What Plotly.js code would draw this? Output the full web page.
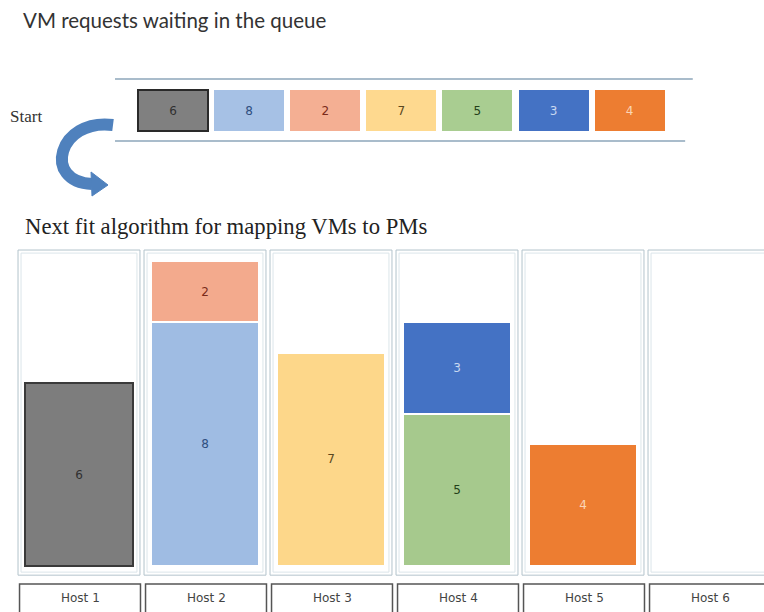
<!DOCTYPE html>
<html>
<head>
<meta charset="utf-8">
<script src="https://cdn.plot.ly/plotly-3.0.1.min.js"></script>
<style>html,body{margin:0;padding:0;background:#fff;}#chart{width:764px;height:612px;}</style>
</head>
<body>
<div id="chart"></div>
<script>
// ---- data ----
const vmSizes = [6, 8, 2, 7, 5, 3, 4];               // queue order
const vmHost = ['Host 1', 'Host 2', 'Host 2', 'Host 3', 'Host 4', 'Host 4', 'Host 5'];
const hosts = ['Host 1', 'Host 2', 'Host 3', 'Host 4', 'Host 5', 'Host 6'];
const hostCapacity = [10, 10, 10, 10, 10, 10];
const queueTitle = 'VM requests waiting in the queue';
const startLabel = 'Start';
const algoTitle = 'Next fit algorithm for mapping VMs to PMs';

// ---- styles ----
const fillMain = ['#7d7d7d', '#9fbce3', '#f3aa8d', '#fdd78a', '#a6c98d', '#4472c4', '#ed7d31'];
const fillQueue = ['#808080', '#a6c1e5', '#f4af93', '#fed98f', '#a9cd91', '#4472c4', '#ed7d31'];
const textCol = ['#303030', '#2f4f80', '#7a2a1a', '#5a4820', '#24401a', '#c8d8f0', '#fbd5b5'];
const edgeMain = ['#3a3a3a', '#ffffff', '#ffffff', '#ffffff', '#ffffff', '#ffffff', '#ffffff'];
const edgeWMain = [1.5, 2, 2, 2, 2, 2, 2];

const W = 764, H = 612, ML = 16;
const px = v => (v - ML) / (W - ML);
const py = v => (H - v) / H;

const traces = [];
// main stacked bars (one trace per VM)
vmSizes.forEach((s, i) => {
  traces.push({
    type: 'bar', xaxis: 'x', yaxis: 'y',
    x: [hosts.indexOf(vmHost[i]) + 1], y: [s],
    width: 0.86,
    marker: {color: fillMain[i], line: {color: edgeMain[i], width: edgeWMain[i]}},
    text: [String(s)], textposition: 'inside', insidetextanchor: 'middle',
    textangle: 0, constraintext: 'none',
    textfont: {family: 'DejaVu Sans', size: 12, color: textCol[i]},
    hoverinfo: 'skip', showlegend: false
  });
});
// queue boxes
traces.push({
  type: 'bar', xaxis: 'x2', yaxis: 'y2',
  x: vmSizes.map((s, i) => i + 1), y: vmSizes.map(() => 1),
  width: 0.92,
  marker: {color: fillQueue, line: {color: vmSizes.map((s, i) => i === 0 ? '#2a2a2a' : 'rgba(0,0,0,0)'), width: vmSizes.map((s, i) => i === 0 ? 1.5 : 0)}},
  text: vmSizes.map(String), textposition: 'inside', insidetextanchor: 'middle',
  textangle: 0, constraintext: 'none',
  textfont: {family: 'DejaVu Sans', size: 12, color: textCol},
  hoverinfo: 'skip', showlegend: false
});

const shapes = [];
// host column frames (double line look)
hosts.forEach((h, i) => {
  const c = i + 1;
  shapes.push({type: 'rect', xref: 'x', yref: 'y', layer: 'below',
    x0: c - 0.484, x1: c + 0.484, y0: -0.3, y1: hostCapacity[i] + 0.36,
    line: {color: '#b3c3cc', width: 1}, fillcolor: 'rgba(0,0,0,0)'});
  shapes.push({type: 'rect', xref: 'x', yref: 'y', layer: 'below',
    x0: c - 0.46, x1: c + 0.46, y0: -0.2, y1: hostCapacity[i] + 0.26,
    line: {color: '#dbe5ea', width: 1}, fillcolor: 'rgba(0,0,0,0)'});
  // host label box
  shapes.push({type: 'rect', xref: 'x', yref: 'y', layer: 'above',
    x0: c - 0.472, x1: c + 0.488, y0: -0.59, y1: -2.2,
    line: {color: '#555555', width: 1.5}, fillcolor: 'rgba(0,0,0,0)'});
});
// queue rails
shapes.push({type: 'line', xref: 'x2', yref: 'y2', x0: 0.238, x1: 7.83, y0: 1.268, y1: 1.268,
  line: {color: '#a9bccb', width: 2}});
shapes.push({type: 'line', xref: 'x2', yref: 'y2', x0: 0.238, x1: 7.73, y0: -0.244, y1: -0.244,
  line: {color: '#a9bccb', width: 2}});
// curved "start" arrow
const P = (x, y) => px(x).toFixed(4) + ',' + py(y).toFixed(4);
shapes.push({type: 'path', xref: 'paper', yref: 'paper',
  path: 'M' + P(113, 125) + ' C' + P(58, 118) + ' ' + P(42, 182) + ' ' + P(92, 184),
  line: {color: '#4f81bd', width: 12}, fillcolor: 'rgba(0,0,0,0)'});
shapes.push({type: 'path', xref: 'paper', yref: 'paper',
  path: 'M' + P(91, 172) + ' L' + P(108, 185) + ' L' + P(92, 196) + ' Z',
  line: {color: '#4f81bd', width: 1}, fillcolor: '#4f81bd'});

const annotations = [
  {xref: 'paper', yref: 'paper', x: px(21), y: py(20), xanchor: 'left', yanchor: 'middle',
   text: queueTitle, showarrow: false, font: {family: 'Lato', size: 20.5, color: '#333'}},
  {xref: 'paper', yref: 'paper', x: px(8), y: py(117), xanchor: 'left', yanchor: 'middle',
   text: startLabel, showarrow: false, font: {family: 'Liberation Serif', size: 17, color: '#333'}},
  {xref: 'paper', yref: 'paper', x: px(23), y: py(226), xanchor: 'left', yanchor: 'middle',
   text: algoTitle, showarrow: false, font: {family: 'Liberation Serif', size: 22.7, color: '#222'}}
];
hosts.forEach((h, i) => {
  annotations.push({xref: 'x', yref: 'y', x: i + 1.008, y: -1.05, xanchor: 'center', yanchor: 'middle',
    text: h, showarrow: false, font: {family: 'DejaVu Sans', size: 12, color: '#444'}});
});

const hidden = {showgrid: false, zeroline: false, showticklabels: false, ticks: '', showline: false, fixedrange: true};
const layout = {
  width: W, height: H,
  margin: {l: ML, r: 0, t: 0, b: 0},
  paper_bgcolor: '#ffffff', plot_bgcolor: 'rgba(0,0,0,0)',
  barmode: 'stack', showlegend: false,
  xaxis: Object.assign({domain: [0, 1], range: [0.5, 0.5 + 748 / 126], anchor: 'y'}, hidden),
  yaxis: Object.assign({domain: [0, 372 / 612], range: [-1.508, 10.689], anchor: 'x'}, hidden),
  xaxis2: Object.assign({domain: [0, 1], range: [-1.063, 8.766], anchor: 'y2'}, hidden),
  yaxis2: Object.assign({domain: [412 / 612, 552 / 612], range: [-1.683, 1.732], anchor: 'x2'}, hidden),
  shapes: shapes,
  annotations: annotations
};
Plotly.newPlot('chart', traces, layout, {staticPlot: true, displayModeBar: false});
</script>
</body>
</html>
